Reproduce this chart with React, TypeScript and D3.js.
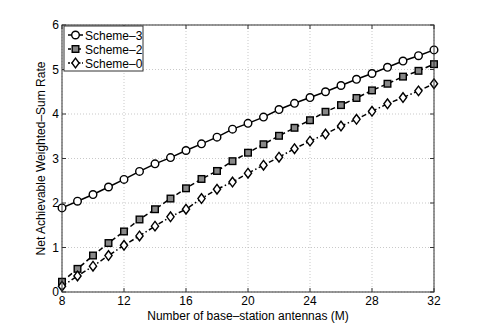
import * as d3 from "d3";
import React from "react";

const antennas = d3.range(8, 33);
const scheme3 = [1.89, 2.04, 2.19, 2.36, 2.53, 2.71, 2.88, 3.02, 3.18, 3.33, 3.48, 3.66, 3.79, 3.93, 4.10, 4.24, 4.37, 4.50, 4.64, 4.78, 4.91, 5.05, 5.19, 5.31, 5.44];
const scheme2 = [0.23, 0.52, 0.82, 1.10, 1.36, 1.63, 1.86, 2.10, 2.33, 2.54, 2.72, 2.94, 3.13, 3.32, 3.51, 3.69, 3.86, 4.05, 4.20, 4.36, 4.53, 4.68, 4.84, 4.97, 5.12];
const scheme0 = [0.13, 0.36, 0.58, 0.82, 1.05, 1.26, 1.48, 1.69, 1.86, 2.10, 2.31, 2.47, 2.67, 2.85, 3.03, 3.22, 3.39, 3.55, 3.73, 3.88, 4.06, 4.23, 4.37, 4.52, 4.68];
const xTicks = [8, 12, 16, 20, 24, 28, 32];
const yTicks = [0, 1, 2, 3, 4, 5, 6];
const seriesNames = ["Scheme\u20133", "Scheme\u20132", "Scheme\u20130"];

const font = "'Liberation Sans', Arial, sans-serif";

function Marker({ kind, cx, cy }: { kind: number; cx: number; cy: number }) {
  if (kind === 0) return <circle cx={cx} cy={cy} r={3.8} fill="white" stroke="black" strokeWidth={1.4} />;
  if (kind === 1) return <rect x={cx - 3.3} y={cy - 3.3} width={6.6} height={6.6} fill="#888" stroke="black" strokeWidth={1.4} />;
  return <path d={`M${cx},${cy - 4.8}L${cx + 3.6},${cy}L${cx},${cy + 4.8}L${cx - 3.6},${cy}Z`} fill="white" stroke="black" strokeWidth={1.4} />;
}

export default function App() {
  const width = 480, height = 328;
  const margin = { top: 25, right: 46, bottom: 36, left: 62 };
  const w = width - margin.left - margin.right;
  const h = height - margin.top - margin.bottom;

  const x = d3.scaleLinear().domain([8, 32]).range([0, w]);
  const y = d3.scaleLinear().domain([0, 6]).range([h, 0]);

  const series = [scheme3, scheme2, scheme0];
  const dashes = ["", "5,3", "5,2.5,1.5,2.5"];
  const line = d3.line<number>().x((_, i) => x(antennas[i])).y((d) => y(d));

  const tl = 4;

  return (
    <svg width={width} height={height} style={{ position: "absolute", left: 0, top: 0, background: "white" }} fontFamily={font}>
      <g transform={`translate(${margin.left},${margin.top})`}>
        {xTicks.map((t) => (
          <line key={"gx" + t} x1={x(t)} x2={x(t)} y1={0} y2={h} stroke="#bbb" strokeWidth={0.8} strokeDasharray="1,2" />
        ))}
        {yTicks.map((t) => (
          <line key={"gy" + t} x1={0} x2={w} y1={y(t)} y2={y(t)} stroke="#bbb" strokeWidth={0.8} strokeDasharray="1,2" />
        ))}
        {series.map((s, k) => (
          <path key={"l" + k} d={line(s) || ""} fill="none" stroke="black" strokeWidth={1.5} strokeDasharray={dashes[k]} />
        ))}
        {series.map((s, k) => (
          <g key={"m" + k}>
            {s.map((v, i) => <Marker key={i} kind={k} cx={x(antennas[i])} cy={y(v)} />)}
          </g>
        ))}
        <rect x={0} y={0} width={w} height={h} fill="none" stroke="#333" strokeWidth={1} />
        {xTicks.map((t) => (
          <g key={"tx" + t}>
            <line x1={x(t)} x2={x(t)} y1={h} y2={h - tl} stroke="#333" />
            <line x1={x(t)} x2={x(t)} y1={0} y2={tl} stroke="#333" />
            <text x={x(t)} y={h + 13} textAnchor="middle" fontSize={12}>{t}</text>
          </g>
        ))}
        {yTicks.map((t) => (
          <g key={"ty" + t}>
            <line x1={0} x2={tl} y1={y(t)} y2={y(t)} stroke="#333" />
            <line x1={w} x2={w - tl} y1={y(t)} y2={y(t)} stroke="#333" />
            <text x={-3} y={y(t) + 4} textAnchor="end" fontSize={12}>{t}</text>
          </g>
        ))}
        <text x={w / 2} y={h + 28} textAnchor="middle" fontSize={12}>Number of base{"\u2013"}station antennas (M)</text>
        <text transform={`translate(-17,${h / 2}) rotate(-90)`} textAnchor="middle" fontSize={12}>Net Achievable Weighted{"\u2013"}Sum Rate</text>

        <g transform="translate(2,1)">
          <rect x={0} y={0} width={79} height={45} fill="white" stroke="#333" strokeWidth={1} />
          {seriesNames.map((n, k) => (
            <g key={"lg" + k} transform={`translate(0,${9 + k * 14})`}>
              <line x1={4} x2={19} y1={0} y2={0} stroke="black" strokeWidth={1.5} strokeDasharray={k === 0 ? "" : k === 1 ? "3,2" : "2,1.5"} />
              <Marker kind={k} cx={11.5} cy={0} />
              <text x={21} y={4.5} fontSize={12}>{n}</text>
            </g>
          ))}
        </g>
      </g>
    </svg>
  );
}
